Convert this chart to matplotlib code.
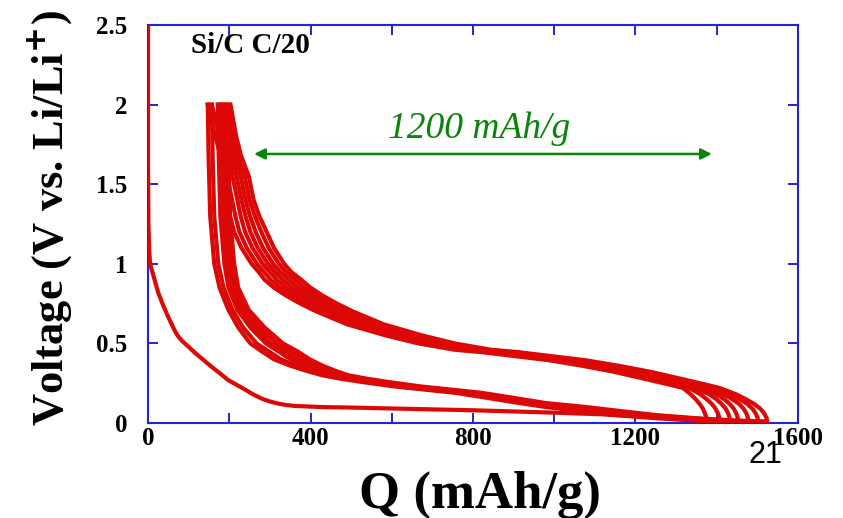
import numpy as np
import matplotlib
matplotlib.use('Agg')
import matplotlib.pyplot as plt

plt.rcParams['font.family'] = ['Liberation Serif', 'DejaVu Serif']
plt.rcParams['font.weight'] = 'bold'

# first discharge (cycle 1)
q_first = [0, 0, 1, 3, 5, 15, 25, 37, 49, 62, 68, 74, 84, 95, 116, 137, 158, 178,
           197, 218, 239, 260, 281, 300, 320, 340, 362, 429, 500, 620, 800, 1000,
           1113, 1250, 1340, 1376]
v_first = [2.5, 1.6, 1.25, 1.08, 1.0, 0.91, 0.82, 0.74, 0.67, 0.60, 0.57, 0.545,
           0.515, 0.49, 0.44, 0.395, 0.35, 0.31, 0.27, 0.24, 0.21, 0.178, 0.152,
           0.135, 0.122, 0.113, 0.107, 0.10, 0.097, 0.09, 0.08, 0.065, 0.055,
           0.035, 0.02, 0.01]

# discharge of cycles 2..7 : Q (mAh/g) at each voltage of v_dis
v_dis = [2.0, 1.68, 1.30, 1.00, 0.85, 0.71, 0.60, 0.50, 0.45, 0.40, 0.36, 0.33,
         0.30, 0.28, 0.26, 0.23, 0.21, 0.19, 0.16, 0.125, 0.10, 0.075, 0.05,
         0.03, 0.015, 0.01]
q_dis2 = [147, 149, 153, 163, 176, 198, 222, 252, 280, 310, 350, 387, 428, 470, 520, 605, 680, 755, 830, 915, 980, 1063, 1150, 1250, 1350, 1408]
q_dis3 = [157, 159, 163, 173, 186, 208, 234, 267, 297, 327, 365, 402, 442, 484, 534, 619, 694, 769, 844, 929, 1000, 1083, 1170, 1270, 1370, 1433]
q_dis4 = [172, 174, 178, 188, 198, 220, 252, 290, 321, 351, 388, 422, 458, 500, 550, 635, 710, 785, 860, 945, 1020, 1103, 1190, 1290, 1390, 1453]
q_dis5 = [180, 182, 186, 196, 206, 228, 262, 302, 335, 365, 400, 432, 468, 510, 560, 645, 720, 795, 870, 955, 1040, 1123, 1210, 1310, 1410, 1478]
q_dis6 = [188, 190, 194, 204, 214, 238, 274, 317, 352, 382, 415, 445, 480, 522, 572, 657, 732, 807, 882, 967, 1060, 1143, 1230, 1330, 1430, 1502]
q_dis7 = [196, 198, 202, 212, 222, 248, 287, 332, 368, 398, 430, 459, 493, 535, 585, 670, 745, 820, 895, 980, 1080, 1163, 1250, 1350, 1450, 1524]

# charge of cycles 1..7 : Q at each voltage of v_chg (curve runs back to the left)
v_chg = [0.01, 0.03, 0.06, 0.09, 0.12, 0.15, 0.18, 0.22, 0.245, 0.27,
         0.32, 0.36, 0.395, 0.42, 0.445, 0.46, 0.50, 0.55, 0.62, 0.70, 0.75,
         0.80, 0.85, 0.90, 0.95, 1.00, 1.10, 1.20, 1.30, 1.40, 1.55, 1.68,
         1.80, 2.00]
q_chg1 = [1376, 1375, 1371, 1366, 1358, 1348, 1336, 1317, 1277, 1235,
          1150, 1068, 985, 903, 822, 755, 665, 585, 490, 415, 375, 340, 310, 287,
          272, 255, 230, 212, 202, 195, 183, 178, 166, 147]
q_chg2 = [1408, 1407, 1403, 1397, 1388, 1375, 1360, 1332, 1292, 1250,
          1165, 1083, 1000, 918, 837, 770, 680, 600, 505, 430, 390, 355, 325, 302,
          285, 268, 243, 225, 215, 207, 195, 188, 176, 157]
q_chg3 = [1433, 1432, 1428, 1422, 1412, 1399, 1382, 1347, 1307, 1265,
          1180, 1098, 1015, 933, 852, 785, 695, 615, 520, 445, 405, 370, 340, 317,
          299, 282, 257, 239, 228, 220, 208, 200, 188, 172]
q_chg4 = [1453, 1452, 1448, 1442, 1432, 1418, 1400, 1362, 1322, 1280,
          1195, 1113, 1030, 948, 867, 800, 710, 630, 535, 460, 420, 385, 355, 332,
          312, 295, 270, 252, 240, 230, 218, 208, 196, 180]
q_chg5 = [1478, 1477, 1473, 1466, 1455, 1438, 1417, 1377, 1337, 1295,
          1210, 1128, 1045, 963, 882, 815, 725, 645, 550, 475, 435, 400, 370, 347,
          325, 308, 283, 265, 251, 240, 228, 215, 203, 188]
q_chg6 = [1502, 1501, 1496, 1488, 1475, 1456, 1433, 1392, 1352, 1310,
          1225, 1143, 1060, 978, 897, 830, 740, 660, 565, 490, 450, 415, 385, 362,
          339, 322, 297, 279, 263, 250, 238, 222, 210, 196]
q_chg7 = [1524, 1523, 1517, 1507, 1492, 1471, 1448, 1407, 1367, 1325,
          1240, 1158, 1075, 993, 912, 845, 755, 675, 580, 505, 465, 430, 400, 377,
          352, 335, 310, 292, 274, 260, 248, 229, 217, 203]

x_ticks = [0, 400, 800, 1200, 1600]
y_ticks = [0, 0.5, 1, 1.5, 2, 2.5]
y_ticklabels = ['0', '0.5', '1', '1.5', '2', '2.5']

red = '#dc0808'
blue = '#2222dd'
green = '#0a850a'

fig = plt.figure(figsize=(8.43, 5.18), dpi=100)
ax = fig.add_axes([0.1756, 0.1834, 0.771, 0.7683])

ax.plot(q_first, v_first, color=red, lw=3.0, zorder=3)
for q in [q_dis2, q_dis3, q_dis4, q_dis5, q_dis6, q_dis7]:
    ax.plot(q, v_dis, color=red, lw=3.0, zorder=3)
for q in [q_chg1, q_chg2, q_chg3, q_chg4, q_chg5, q_chg6, q_chg7]:
    ax.plot(q, v_chg, color=red, lw=3.0, zorder=3)

ax.set_xlim(0, 1600)
ax.set_ylim(0, 2.5)
ax.set_xticks(x_ticks)
ax.set_xticks(np.arange(0, 1601, 200), minor=True)
ax.set_yticks(y_ticks)
ax.set_yticklabels(y_ticklabels)
ax.tick_params(which='both', direction='in', top=True, right=True,
               color=blue, width=1.4, length=7, labelsize=18)
ax.tick_params(axis='y', pad=15)
ax.tick_params(axis='x', pad=3)
for s in ax.spines.values():
    s.set_color(blue)
    s.set_linewidth(1.5)

ax.text(106, 2.324, 'Si/C C/20', fontsize=21, fontweight='bold', va='baseline')

# double arrow for reversible capacity
ax.annotate('', xy=(261, 1.69), xytext=(1388, 1.69),
            arrowprops=dict(arrowstyle='<|-|>', color=green, lw=1.8,
                            mutation_scale=16, shrinkA=0, shrinkB=0))
ax.text(815, 1.79, '1200 mAh/g', color=green, fontsize=27, fontstyle='italic',
        fontweight='normal', ha='center', va='baseline')

fig.text(50/843, 1-218/518, 'Voltage (V vs. Li/Li$^{\\mathbf{+}}$)', rotation=90,
         fontsize=32, fontweight='bold', ha='center', va='center')
fig.text(480/843, 1-495/518, 'Q (mAh/g)', fontsize=38, fontweight='bold',
         ha='center', va='center')

# slide number left over from the presentation
fig.text(748/843, 1-463/518, '21', fontsize=22, fontweight='normal',
         family=['Liberation Sans', 'DejaVu Sans'])

fig.savefig('out.png', dpi=100)
